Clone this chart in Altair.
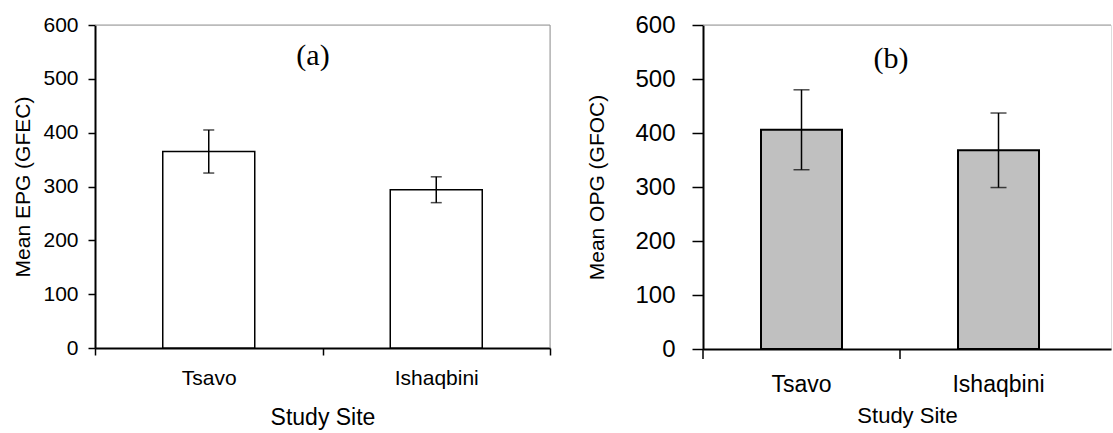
import altair as alt
import pandas as pd

# ---- data ----
sites = ["Tsavo", "Ishaqbini"]
epg_mean = [365, 294]
epg_err = [40, 24]
opg_mean = [406, 368]
opg_err = [74, 69]
y_ticks = [0, 100, 200, 300, 400, 500, 600]
panel_labels = ["(a)", "(b)"]

df_a = pd.DataFrame({"site": sites, "mean": epg_mean, "err": epg_err})
df_a["lo"] = df_a["mean"] - df_a["err"]
df_a["hi"] = df_a["mean"] + df_a["err"]
df_b = pd.DataFrame({"site": sites, "mean": opg_mean, "err": opg_err})
df_b["lo"] = df_b["mean"] - df_b["err"]
df_b["hi"] = df_b["mean"] + df_b["err"]

FONT = "Liberation Sans"
SERIF = "Liberation Serif"

# ---------------- panel (a) ----------------
W_A, H_A = 455, 323
xs_a = alt.Scale(paddingInner=0, paddingOuter=0)
ax_xa = alt.Axis(title="Study Site", labelAngle=0, tickBand="extent",
                 domainColor="black", domainWidth=2, tickColor="black",
                 tickWidth=1.5, tickSize=7, labelFontSize=21, titleFontSize=23,
                 labelPadding=12, titlePadding=18, titleFontWeight="normal",
                 labelColor="black", titleColor="black", labelFont=FONT, titleFont=FONT)
ax_ya = alt.Axis(title="Mean EPG (GFEC)", values=y_ticks, grid=False,
                 domainColor="black", domainWidth=2, tickColor="black",
                 tickWidth=1.5, tickSize=7, labelFontSize=21, titleFontSize=21,
                 labelPadding=10, titlePadding=9, titleFontWeight="normal",
                 labelColor="black", titleColor="black", labelFont=FONT, titleFont=FONT)
ys_a = alt.Scale(domain=[0, 600])

def xa(field="site"):
    return alt.X(f"{field}:N", sort=sites, scale=xs_a, axis=ax_xa)

def ya(field):
    return alt.Y(f"{field}:Q", scale=ys_a, axis=ax_ya)

base_a = alt.Chart(df_a)
bars_a = base_a.mark_bar(size=92, fill="white", stroke="black", strokeWidth=1.5).encode(
    x=xa(), y=ya("mean"))
err_a = base_a.mark_rule(color="black", strokeWidth=1.5).encode(
    x=xa(), y=ya("lo"), y2="hi:Q")
caph_a = base_a.mark_tick(color="black", size=11, thickness=1.5).encode(x=xa(), y=ya("hi"))
capl_a = base_a.mark_tick(color="black", size=11, thickness=1.5).encode(x=xa(), y=ya("lo"))
lab_df_a = pd.DataFrame({"lab": [panel_labels[0]]})
lab_a = alt.Chart(lab_df_a).mark_text(font=SERIF, fontSize=30, color="black",
                                      baseline="middle", align="center").encode(
    text="lab:N", x=alt.value(218), y=alt.value(31))
top_a = alt.Chart(lab_df_a).mark_rule(color="#999999", strokeWidth=1).encode(
    x=alt.value(0), x2=alt.value(W_A), y=alt.value(0))
right_a = alt.Chart(lab_df_a).mark_rule(color="#999999", strokeWidth=1).encode(
    x=alt.value(W_A), y=alt.value(0), y2=alt.value(H_A))

panel_a = alt.layer(top_a, right_a, bars_a, err_a, caph_a, capl_a, lab_a).properties(
    width=W_A, height=H_A)

# ---------------- panel (b) ----------------
W_B, H_B = 408, 324
xs_b = alt.Scale(paddingInner=0, paddingOuter=0.0355, align=0)
ax_xb = alt.Axis(title="Study Site", labelAngle=0, ticks=False,
                 domainColor="black", domainWidth=2,
                 labelFontSize=23, titleFontSize=22,
                 labelPadding=24, titlePadding=9, titleFontWeight="normal",
                 labelColor="black", titleColor="black", labelFont=FONT, titleFont=FONT)
ax_yb = alt.Axis(title="Mean OPG (GFOC)", values=y_ticks, grid=False,
                 domainColor="black", domainWidth=2, tickColor="black",
                 tickWidth=1.5, tickSize=11, labelFontSize=24, titleFontSize=21,
                 labelPadding=17, titlePadding=27, titleFontWeight="normal",
                 labelColor="black", titleColor="black", labelFont=FONT, titleFont=FONT)
ys_b = alt.Scale(domain=[0, 600])

def xb(field="site", **kw):
    return alt.X(f"{field}:N", sort=sites, scale=xs_b, axis=ax_xb, **kw)

def yb(field):
    return alt.Y(f"{field}:Q", scale=ys_b, axis=ax_yb)

base_b = alt.Chart(df_b)
bars_b = base_b.mark_bar(size=81, fill="#c0c0c0", stroke="black", strokeWidth=2).encode(
    x=xb(), y=yb("mean"))
err_b = base_b.mark_rule(color="black", strokeWidth=1.5).encode(
    x=xb(), y=yb("lo"), y2="hi:Q")
caph_b = base_b.mark_tick(color="black", size=16, thickness=1.5).encode(x=xb(), y=yb("hi"))
capl_b = base_b.mark_tick(color="black", size=16, thickness=1.5).encode(x=xb(), y=yb("lo"))
ticks_b = base_b.mark_rule(color="black", strokeWidth=1.5).encode(
    x=xb(bandPosition=0), y=alt.value(H_B), y2=alt.value(H_B + 10))
lab_df_b = pd.DataFrame({"lab": [panel_labels[1]]})
lab_b = alt.Chart(lab_df_b).mark_text(font=SERIF, fontSize=30, color="black",
                                      baseline="middle", align="center").encode(
    text="lab:N", x=alt.value(188), y=alt.value(34))
top_b = alt.Chart(lab_df_b).mark_rule(color="#999999", strokeWidth=1).encode(
    x=alt.value(0), x2=alt.value(W_B), y=alt.value(0))

panel_b = alt.layer(top_b, bars_b, err_b, caph_b, capl_b, ticks_b, lab_b).properties(
    width=W_B, height=H_B)

chart = alt.hconcat(panel_a, panel_b, spacing=34).properties(
    padding={"left": 12, "top": 12, "right": 0, "bottom": 0},
    background="white",
).configure_view(stroke=None).configure(font=FONT)

chart.save("out.html", embed_options={"renderer": "svg", "actions": False})
